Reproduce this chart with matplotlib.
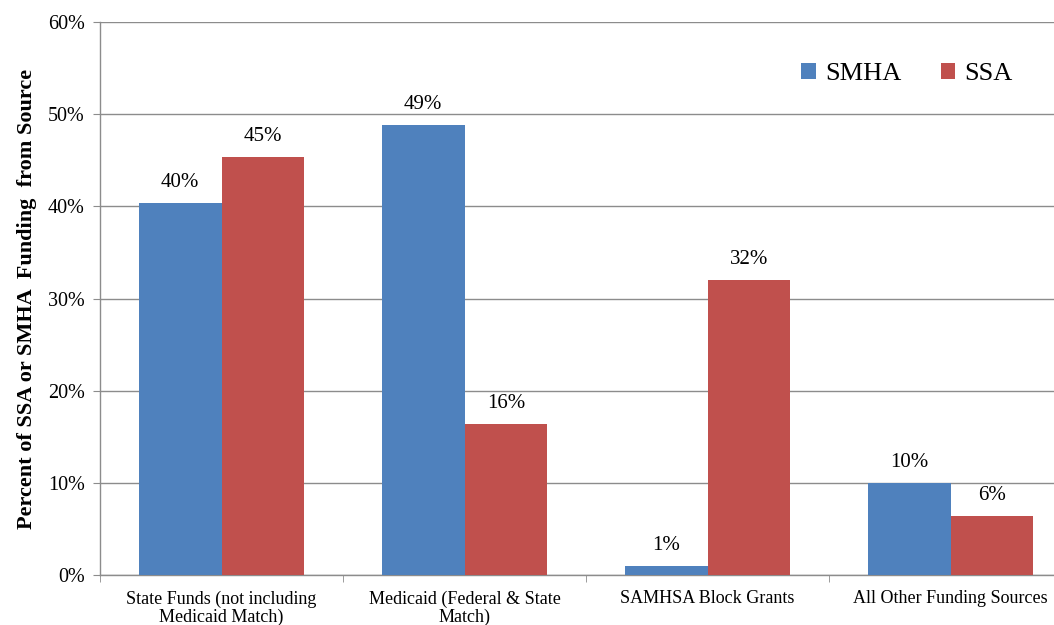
import matplotlib
matplotlib.use("Agg")
import matplotlib.pyplot as plt
import numpy as np

categories = ["State Funds (not including\nMedicaid Match)", "Medicaid (Federal & State\nMatch)",
              "SAMHSA Block Grants", "All Other Funding Sources"]
smha = [40.4, 48.8, 1.0, 10.0]
ssa = [45.3, 16.4, 32.0, 6.4]
smha_labels = ["40%", "49%", "1%", "10%"]
ssa_labels = ["45%", "16%", "32%", "6%"]
yticks = [0, 10, 20, 30, 40, 50, 60]

plt.rcParams['font.family'] = ['Liberation Serif', 'DejaVu Serif']

fig = plt.figure(figsize=(10.54, 6.25), dpi=100)
W, H = 1054, 625
left, right, top, bottom = 100, 1072, 22, 575
ax = fig.add_axes([left / W, 1 - bottom / H, (right - left) / W, (bottom - top) / H])

x = np.arange(len(categories))
bw = 0.34
blue = "#4F81BD"
red = "#C0504D"
ax.bar(x - bw / 2, smha, bw, color=blue, label="SMHA", zorder=3, edgecolor="none")
ax.bar(x + bw / 2, ssa, bw, color=red, label="SSA", zorder=3, edgecolor="none")

for i in range(len(categories)):
    ax.text(x[i] - bw / 2, smha[i] + 1.2, smha_labels[i], ha="center", va="bottom", fontsize=15)
    ax.text(x[i] + bw / 2, ssa[i] + 1.2, ssa_labels[i], ha="center", va="bottom", fontsize=15)

ax.set_xlim(-0.5, len(categories) - 0.5)
ax.set_ylim(0, 60)
ax.set_yticks(yticks)
ax.set_yticklabels([f"{t}%" for t in yticks], fontsize=14.5)
ax.yaxis.grid(True, color="#8c8c8c", linewidth=1, zorder=0)
ax.set_axisbelow(True)

ax.set_xticks(x)
ax.set_xticklabels(categories, fontsize=13, linespacing=1.1)
ax.set_xticks(np.arange(-0.5, len(categories)), minor=True)
ax.tick_params(axis="x", which="major", length=0, pad=11)
ax.tick_params(axis="x", which="minor", length=5, color="#8c8c8c")
ax.tick_params(axis="y", length=5, color="#8c8c8c", pad=6)

for s in ["top", "right"]:
    ax.spines[s].set_visible(False)
for s in ["left", "bottom"]:
    ax.spines[s].set_color("#8c8c8c")
    ax.spines[s].set_linewidth(1)

ax.set_ylabel("Percent of SSA or SMHA  Funding  from Source", fontsize=16, fontweight="bold", labelpad=8)

leg = ax.legend(loc="upper left", bbox_to_anchor=(788 / W, 1 - 50 / H), bbox_transform=fig.transFigure,
                ncol=2, frameon=False, fontsize=19, handlelength=0.55, handleheight=0.55,
                handletextpad=0.35, columnspacing=1.5, borderpad=0)

fig.savefig("out.png", dpi=100)
